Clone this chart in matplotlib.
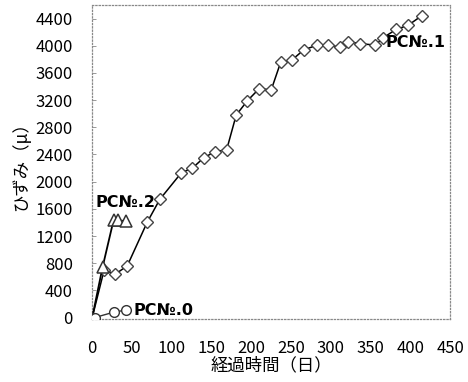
import matplotlib
matplotlib.use("Agg")
import matplotlib.pyplot as plt

plt.rcParams['font.family'] = ['Noto Sans CJK JP', 'DejaVu Sans']

# PCNo.1 (ひし形)
dias_1 = [0, 15, 29, 44, 69, 85, 112, 126, 140, 154, 169, 181, 195, 210, 225,
          237, 251, 266, 283, 297, 312, 322, 337, 356, 366, 382, 397, 414]
ref_1 = [0, 700, 640, 760, 1400, 1740, 2130, 2200, 2350, 2440, 2470, 2980, 3190,
         3370, 3350, 3760, 3790, 3940, 4010, 4010, 3980, 4060, 4030, 4010, 4120,
         4240, 4300, 4440]

# PCNo.2 (三角)
dias_2 = [0, 13, 27, 32, 43]
ref_2 = [0, 740, 1440, 1430, 1420]

# PCNo.0 (丸)
dias_0 = [0, 3, 27, 42]
ref_0 = [0, 0, 80, 110]

xticks = [0, 50, 100, 150, 200, 250, 300, 350, 400, 450]
yticks = [0, 400, 800, 1200, 1600, 2000, 2400, 2800, 3200, 3600, 4000, 4400]

fig = plt.figure(figsize=(4.68, 3.82), dpi=100)
ax = fig.add_axes([0.197, 0.165, 0.765, 0.822])

ax.plot(dias_1, ref_1, color='black', lw=1.1, marker='D', ms=6.5,
        mfc='white', mec='#444444', mew=1.0, zorder=3)
ax.plot(dias_2, ref_2, color='black', lw=1.3, marker='^', ms=9,
        mfc='white', mec='#333333', mew=1.1, zorder=4)
ax.plot(dias_0, ref_0, color='#333333', lw=1.0, marker='o', ms=7,
        mfc='white', mec='#333333', mew=1.0, zorder=4)

etiq = dict(transform=ax.transAxes, fontsize=11.5, fontweight='bold',
            family=['Liberation Sans Narrow', 'DejaVu Sans'])
ax.text(0.82, 0.865, 'PC№.1', **etiq)
ax.text(0.01, 0.355, 'PC№.2', **etiq)
ax.text(0.115, 0.012, 'PC№.0', **etiq)

ax.set_xlim(0, 450)
ax.set_ylim(-20, 4600)
ax.set_xticks(xticks)
ax.set_yticks(yticks)
ax.tick_params(axis='x', length=0, pad=15, labelsize=12)
ax.tick_params(axis='y', direction='in', length=3, width=0.6, color='#888888',
               pad=14, labelsize=12)

for s in ax.spines.values():
    s.set_linestyle(':')
    s.set_color('#888888')
    s.set_linewidth(0.9)

ax.set_xlabel('経過時間（日）', fontsize=12.5, labelpad=0)
ax.set_ylabel('ひずみ（μ）', fontsize=12.5, labelpad=4)

fig.savefig('out.png', dpi=100)
